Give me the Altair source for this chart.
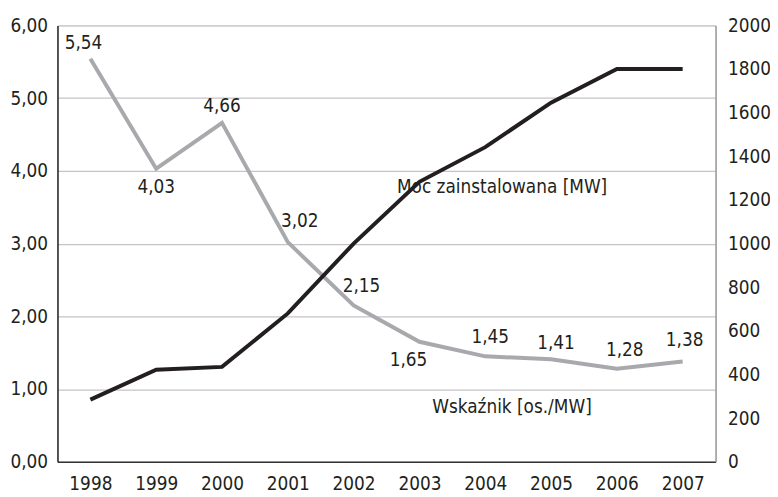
import altair as alt
import pandas as pd

years = ["1998", "1999", "2000", "2001", "2002", "2003", "2004", "2005", "2006", "2007"]
wskaznik = [5.54, 4.03, 4.66, 3.02, 2.15, 1.65, 1.45, 1.41, 1.28, 1.38]
moc = [285, 422, 435, 680, 1000, 1283, 1442, 1646, 1800, 1800]

# label offsets (styling) for the value labels of the grey series
label_dx = [-7, 0, 0, 12, 8, -11, 5, 5, 8, 2]
label_dy = [-16, 19, -17, -21, -20, 18, -19, -16, -19, -22]

ann_text = ["Moc zainstalowana [MW]", "Wskaźnik [os./MW]"]
ann_year = ["2004", "2004"]
ann_val = [3.78, 0.75]
ann_dx = [17, 27]

FONT = "Liberation Sans Narrow, DejaVu Sans Condensed, sans-serif"
GREY = "#a7a9ac"
BLACK = "#231f20"

df = pd.DataFrame({
    "year": years,
    "wsk": wskaznik,
    "moc": moc,
    "label": [f"{v:.2f}".replace(".", ",") for v in wskaznik],
})
ann = pd.DataFrame({"year": ann_year, "val": ann_val, "text": ann_text})

x_enc = alt.X(
    "year:O",
    title=None,
    scale=alt.Scale(type="point", padding=0.5),
    axis=alt.Axis(labelAngle=0, ticks=False, domainColor="#333333", domainWidth=1.5,
                  labelPadding=13, labelFontSize=19, labelFont=FONT, labelColor="#231f20"),
)

left_y = alt.Y(
    "wsk:Q",
    title=None,
    scale=alt.Scale(domain=[0, 6], nice=False),
    axis=alt.Axis(orient="left", values=[0, 1, 2, 3, 4, 5, 6], ticks=False,
                  labelExpr="replace(format(datum.value, '.2f'), '.', ',')",
                  grid=True, gridColor="#c4c4c4", gridWidth=1.2,
                  domainColor="#231f20", domainWidth=1.5,
                  labelPadding=10, labelFontSize=19, labelFont=FONT, labelColor="#231f20"),
)

grey_line = alt.Chart(df).mark_line(color=GREY, strokeWidth=4, strokeJoin="miter").encode(x=x_enc, y=left_y)

text_layers = []
for i, yr in enumerate(years):
    text_layers.append(
        alt.Chart(df).transform_filter(alt.datum.year == yr).mark_text(
            dx=label_dx[i], dy=label_dy[i], fontSize=19, font=FONT, color="#231f20",
            align="center", baseline="middle",
        ).encode(x=alt.X("year:O"), y=alt.Y("wsk:Q"), text="label:N")
    )

ann_layers = []
for i, t in enumerate(ann_text):
    ann_layers.append(
        alt.Chart(ann).transform_filter(alt.datum.text == t).mark_text(
            dx=ann_dx[i], fontSize=19, font=FONT, color="#231f20", align="center", baseline="middle"
        ).encode(x=alt.X("year:O"), y=alt.Y("val:Q"), text="text:N")
    )

left = alt.layer(grey_line, *text_layers, *ann_layers)

right_y = alt.Y(
    "moc:Q",
    title=None,
    scale=alt.Scale(domain=[0, 2000], nice=False),
    axis=alt.Axis(orient="right", values=list(range(0, 2001, 200)), ticks=False, grid=False,
                  format="d",
                  domainColor="#9a9a9a", domainWidth=1.5,
                  labelPadding=12, labelFontSize=19, labelFont=FONT, labelColor="#231f20"),
)

black_line = alt.Chart(df).mark_line(color=BLACK, strokeWidth=4, strokeJoin="miter").encode(x=x_enc, y=right_y)

chart = (
    alt.layer(left, black_line)
    .resolve_scale(y="independent")
    .properties(width=665, height=441, padding={"left": 50, "top": 15, "right": 55, "bottom": 33},
                autosize=alt.AutoSizeParams(type="none"))
    .configure_view(stroke=None)
    .configure(background="white")
)

chart.save("out.html", embed_options={"renderer": "svg", "actions": False})
